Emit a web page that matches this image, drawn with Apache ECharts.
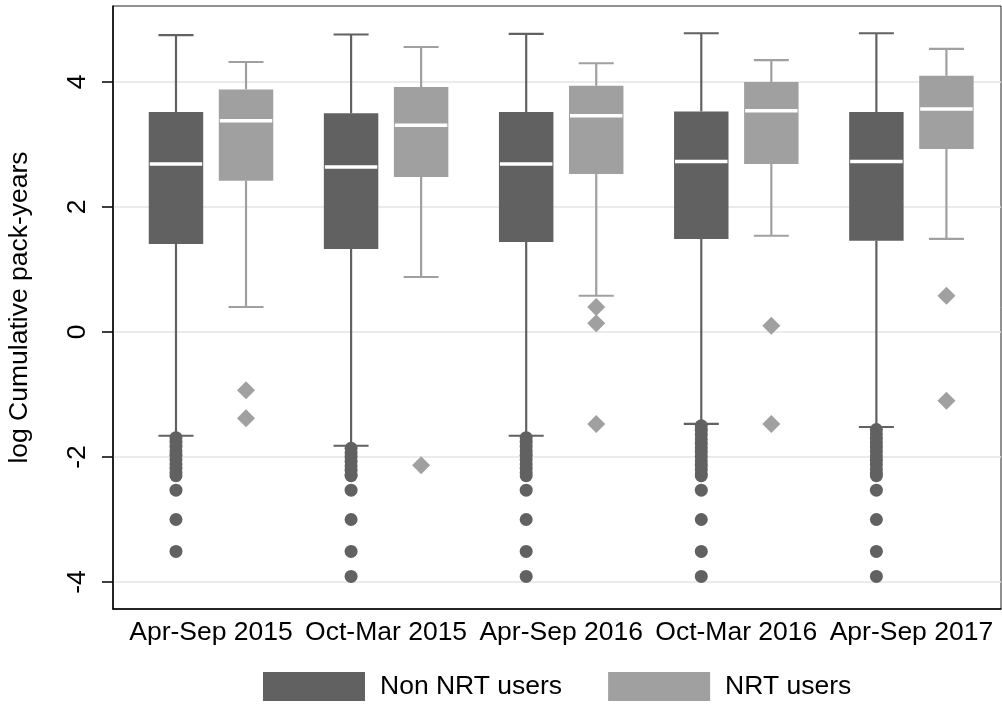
<!DOCTYPE html>
<html>
<head>
<meta charset="utf-8">
<script src="https://cdn.jsdelivr.net/npm/echarts@6/dist/echarts.min.js"></script>
<style>
html,body{margin:0;padding:0;background:#fff;}
#chart{width:1002px;height:704px;}
</style>
</head>
<body>
<div id="chart"></div>
<script>
// ---- Data ----
const categories = ['Apr-Sep 2015', 'Oct-Mar 2015', 'Apr-Sep 2016', 'Oct-Mar 2016', 'Apr-Sep 2017'];
const yTicks = [-4, -2, 0, 2, 4];

// Non NRT users: [min whisker, Q1, median, Q3, max whisker]
const nonMin = [-1.66, -1.82, -1.66, -1.47, -1.52];
const nonQ1  = [1.41, 1.33, 1.44, 1.49, 1.46];
const nonMed = [2.69, 2.64, 2.69, 2.73, 2.73];
const nonQ3  = [3.52, 3.50, 3.52, 3.53, 3.52];
const nonMax = [4.75, 4.76, 4.77, 4.78, 4.78];

// NRT users
const nrtMin = [0.40, 0.88, 0.58, 1.54, 1.49];
const nrtQ1  = [2.42, 2.48, 2.53, 2.69, 2.93];
const nrtMed = [3.38, 3.31, 3.46, 3.54, 3.57];
const nrtQ3  = [3.88, 3.92, 3.94, 4.00, 4.10];
const nrtMax = [4.32, 4.56, 4.30, 4.35, 4.53];

// Outliers
const nonOut1 = [-1.69, -1.76, -1.83, -1.90, -1.97, -2.04, -2.11, -2.18, -2.25, -2.30, -2.53, -3.00, -3.51];
const nonOut2 = [-1.86, -1.93, -2.00, -2.07, -2.14, -2.21, -2.28, -2.30, -2.53, -3.00, -3.51, -3.91];
const nonOut3 = [-1.69, -1.76, -1.83, -1.90, -1.97, -2.04, -2.11, -2.18, -2.25, -2.30, -2.53, -3.00, -3.51, -3.91];
const nonOut4 = [-1.50, -1.57, -1.64, -1.71, -1.78, -1.85, -1.92, -1.99, -2.06, -2.13, -2.20, -2.27, -2.30, -2.53, -3.00, -3.51, -3.91];
const nonOut5 = [-1.56, -1.63, -1.70, -1.77, -1.84, -1.91, -1.98, -2.05, -2.12, -2.19, -2.26, -2.30, -2.53, -3.00, -3.51, -3.91];
const nrtOut1 = [-0.93, -1.38];
const nrtOut2 = [-2.13];
const nrtOut3 = [0.40, 0.14, -1.47];
const nrtOut4 = [0.10, -1.47];
const nrtOut5 = [0.58, -1.10];

// ---- Styling / layout constants ----
const DARK = '#616161';
const LIGHT = '#a0a0a0';
const OFFSET = 0.2;     // half distance between paired boxes (x units)
const BOX_W = 0.311;    // box width (x units)
const CAP_W = 0.2;      // whisker cap width (x units)
const FONT = '"Liberation Sans", Arial, Helvetica, sans-serif';
const FS = 26.5;

function boxData(mins, q1s, meds, q3s, maxs) {
  return categories.map((c, i) => [i, mins[i], q1s[i], meds[i], q3s[i], maxs[i]]);
}
function outData(lists, off) {
  const d = [];
  lists.forEach((arr, i) => arr.forEach(v => d.push([i + off, v])));
  return d;
}

function makeRender(off, color) {
  return function (params, api) {
    const i = api.value(0);
    const xc = api.coord([i + off, 0])[0];
    const half = api.size([BOX_W, 0])[0] / 2;
    const capHalf = api.size([CAP_W, 0])[0] / 2;
    const yMin = api.coord([i, api.value(1)])[1];
    const yQ1 = api.coord([i, api.value(2)])[1];
    const yMed = api.coord([i, api.value(3)])[1];
    const yQ3 = api.coord([i, api.value(4)])[1];
    const yMax = api.coord([i, api.value(5)])[1];
    const ls = { stroke: color, lineWidth: 2.2 };
    return {
      type: 'group',
      children: [
        { type: 'line', shape: { x1: xc, y1: yMax, x2: xc, y2: yQ3 }, style: ls },
        { type: 'line', shape: { x1: xc, y1: yQ1, x2: xc, y2: yMin }, style: ls },
        { type: 'line', shape: { x1: xc - capHalf, y1: yMax, x2: xc + capHalf, y2: yMax }, style: ls },
        { type: 'line', shape: { x1: xc - capHalf, y1: yMin, x2: xc + capHalf, y2: yMin }, style: ls },
        { type: 'rect', shape: { x: xc - half, y: yQ3, width: 2 * half, height: yQ1 - yQ3 }, style: { fill: color } },
        { type: 'line', shape: { x1: xc - half + 1, y1: yMed, x2: xc + half - 1, y2: yMed }, style: { stroke: '#ffffff', lineWidth: 3.5 } }
      ]
    };
  };
}

const chart = echarts.init(document.getElementById('chart'), null, { renderer: 'canvas' });
chart.setOption({
  animation: false,
  backgroundColor: '#ffffff',
  textStyle: { fontFamily: FONT },
  grid: { left: 113, right: 1, top: 6, bottom: 95, containLabel: false, outerBoundsMode: 'none',
    show: true, borderColor: '#222', borderWidth: 1, backgroundColor: '#ffffff' },
  legend: {
    data: ['Non NRT users', 'NRT users'],
    left: 263, top: 672, padding: 0,
    icon: 'rect', itemWidth: 102, itemHeight: 29, itemGap: 46,
    textStyle: { fontSize: FS, color: '#000', fontFamily: FONT, padding: [0, 0, 0, 10] },
    selectedMode: false
  },
  xAxis: {
    type: 'value',
    min: -0.5597, max: 4.5117,
    axisLine: { show: true, onZero: false, lineStyle: { color: '#000', width: 1.5 } },
    axisTick: { show: false },
    splitLine: { show: false },
    axisLabel: {
      customValues: [0, 1, 2, 3, 4],
      formatter: v => categories[Math.round(v)] || '',
      fontSize: FS, color: '#000', margin: 10, fontFamily: FONT
    }
  },
  yAxis: {
    type: 'value',
    min: -4.432, max: 5.216,
    name: 'log Cumulative pack-years',
    nameLocation: 'middle', nameGap: 80,
    nameTextStyle: { fontSize: FS, color: '#000', fontFamily: FONT },
    axisLine: { show: true, onZero: false, lineStyle: { color: '#000', width: 1.5 } },
    axisTick: { show: true, customValues: yTicks, length: 11, lineStyle: { color: '#000', width: 1.5 } },
    splitLine: { show: true, lineStyle: { color: '#e4e4e4', width: 1.5 } },
    axisLabel: {
      customValues: yTicks, rotate: 90,
      fontSize: FS, color: '#000', margin: 22, fontFamily: FONT
    }
  },
  series: [
    { name: 'Non NRT users', type: 'custom', renderItem: makeRender(-OFFSET, DARK), itemStyle: { color: DARK },
      encode: { x: 0, y: [1, 2, 3, 4, 5] }, data: boxData(nonMin, nonQ1, nonMed, nonQ3, nonMax), z: 2 },
    { name: 'NRT users', type: 'custom', renderItem: makeRender(OFFSET, LIGHT), itemStyle: { color: LIGHT },
      encode: { x: 0, y: [1, 2, 3, 4, 5] }, data: boxData(nrtMin, nrtQ1, nrtMed, nrtQ3, nrtMax), z: 2 },
    { name: 'Non NRT outliers', type: 'scatter', symbol: 'circle', symbolSize: 13, itemStyle: { color: DARK, opacity: 1 },
      data: outData([nonOut1, nonOut2, nonOut3, nonOut4, nonOut5], -OFFSET), z: 3 },
    { name: 'NRT outliers', type: 'scatter', symbol: 'diamond', symbolSize: 18, itemStyle: { color: LIGHT, opacity: 1 },
      data: outData([nrtOut1, nrtOut2, nrtOut3, nrtOut4, nrtOut5], OFFSET), z: 3 }
  ]
});
</script>
</body>
</html>
